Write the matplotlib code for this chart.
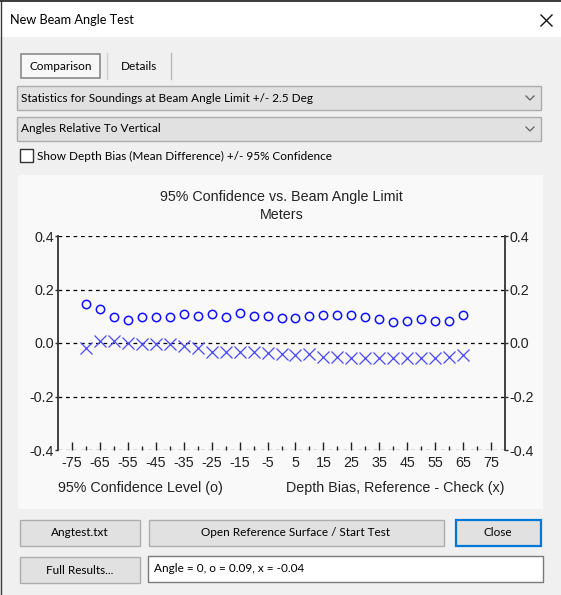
import matplotlib
matplotlib.use('Agg')
import matplotlib.pyplot as plt
from matplotlib.patches import Rectangle
from matplotlib.ticker import FixedLocator

# beam angles (deg) and statistics
angles = [-70, -65, -60, -55, -50, -45, -40, -35, -30, -25, -20, -15, -10, -5,
          0, 5, 10, 15, 20, 25, 30, 35, 40, 45, 50, 55, 60, 65]
conf95 = [0.146, 0.127, 0.097, 0.086, 0.096, 0.096, 0.096, 0.107, 0.102, 0.107,
          0.096, 0.111, 0.102, 0.102, 0.094, 0.095, 0.102, 0.105, 0.105, 0.105,
          0.098, 0.088, 0.078, 0.084, 0.088, 0.083, 0.083, 0.103]
bias = [-0.018, 0.008, 0.008, 0.001, -0.003, -0.003, -0.002, -0.011, -0.018, -0.033,
        -0.033, -0.033, -0.033, -0.037, -0.040, -0.045, -0.042, -0.053, -0.053, -0.055,
        -0.055, -0.057, -0.057, -0.057, -0.057, -0.055, -0.053, -0.045]
xtick_major = list(range(-75, 76, 10))
xtick_minor = list(range(-70, 71, 10))
yticks = [-0.4, -0.2, 0.0, 0.2, 0.4]

W, H = 561, 595
ui_font = 'Lato'
chart_font = 'Liberation Sans'

fig = plt.figure(figsize=(W / 100, H / 100), dpi=100)
fig.patch.set_facecolor('#f0f0f0')

# background axes in pixel coordinates for the dialog chrome
bg = fig.add_axes([0, 0, 1, 1])
bg.set_xlim(0, W)
bg.set_ylim(H, 0)
bg.axis('off')


def box(x0, y0, x1, y1, fc, ec, lw=1.0, z=1):
    bg.add_patch(Rectangle((x0, y0), x1 - x0, y1 - y0, facecolor=fc,
                           edgecolor=ec, linewidth=lw, zorder=z))


def label(x, y, s, ha='left', size=8.5, color='#000000', family=ui_font):
    bg.text(x, y, s, ha=ha, va='center', fontsize=size, color=color, family=family)


# title bar
box(0, 0, W, 37, '#ffffff', 'none')
bg.plot([0, W], [0.6, 0.6], color='#1a1a1a', lw=1.2)
bg.plot([1.5, 1.5], [0, H], color='#3a3a3a', lw=1.0)
label(10, 20, 'New Beam Angle Test', size=9.2)
bg.plot([541, 552], [15, 26], color='#111111', lw=1.0)
bg.plot([541, 552], [26, 15], color='#111111', lw=1.0)

# tabs
box(21, 54, 100, 78, '#f7f7f7', '#8a8a8a', lw=1.2)
label(61, 67, 'Comparison', ha='center')
bg.plot([107, 107], [53, 79], color='#d0d0d0', lw=1)
bg.plot([171, 171], [53, 79], color='#b8b8b8', lw=1)
label(139, 66, 'Details', ha='center')

# combo boxes
for y0, txt in [(86, 'Statistics for Soundings at Beam Angle Limit +/- 2.5 Deg'),
                (117, 'Angles Relative To Vertical')]:
    box(17, y0, 541, y0 + 24, '#e1e1e1', '#adadad')
    label(21, y0 + 12, txt)
    bg.plot([526, 530, 534], [y0 + 10, y0 + 14, y0 + 10], color='#606060', lw=0.9)

# checkbox
box(20, 149, 33, 162, '#ffffff', '#333333')
label(37, 156, 'Show Depth Bias (Mean Difference) +/- 95% Confidence')

# chart panel
box(18, 175, 543, 509, '#f9f9f9', 'none')

# buttons
box(20, 520, 140, 546, '#e1e1e1', '#adadad')
label(80, 533, 'Angtest.txt', ha='center')
box(149, 520, 444, 546, '#e1e1e1', '#adadad')
label(296, 533, 'Open Reference Surface / Start Test', ha='center')
box(456, 520, 541, 546, '#e1e1e1', '#0078d7', lw=1.6)
label(498, 533, 'Close', ha='center')
box(20, 557, 140, 583, '#e1e1e1', '#adadad')
label(80, 570, 'Full Results...', ha='center')
box(148, 556, 543, 582, '#ffffff', '#7a7a7a')
label(154, 569, 'Angle = 0, o = 0.09, x = -0.04')

# chart axes
left, right, top, bottom = 58, 505, 236, 450
ax = fig.add_axes([left / W, (H - bottom) / H, (right - left) / W, (bottom - top) / H])
ax.patch.set_alpha(0)
ax.set_xlim(-80, 80)
ax.set_ylim(-0.4, 0.4)

for v in yticks:
    ax.axhline(v, color='#000000', lw=0.9, ls=(0, (3, 3)), zorder=1)

ax.plot(angles, conf95, 'o', mfc='none', mec='#1010ff', mew=1.1, ms=6.0, zorder=3)
ax.plot(angles, bias, 'x', color='#4848ff', mew=0.9, ms=8.5, zorder=3)

for s in ['top', 'bottom']:
    ax.spines[s].set_visible(False)
for s in ['left', 'right']:
    ax.spines[s].set_color('#333333')
    ax.spines[s].set_linewidth(1.3)

ax.xaxis.set_major_locator(FixedLocator(xtick_major))
ax.xaxis.set_minor_locator(FixedLocator(xtick_minor))
ax.set_xticklabels([str(v) for v in xtick_major])
ax.tick_params(axis='x', which='major', direction='in', length=6, width=1,
               color='#222222', pad=4, labelsize=10.3, labelcolor='#222222')
ax.tick_params(axis='x', which='minor', direction='in', length=3, width=1,
               color='#222222')
ax.set_yticks(yticks)
ax.set_yticklabels(['%.1f' % v for v in yticks])
ax.tick_params(axis='y', left=True, right=True, labelleft=True, labelright=True,
               direction='out', length=2, width=1, color='#333333', pad=1,
               labelsize=10.3, labelcolor='#222222')
for t in ax.get_xticklabels() + ax.get_yticklabels():
    t.set_family(chart_font)

ax.set_title('95% Confidence vs. Beam Angle Limit\nMeters', fontsize=10.3,
             family=chart_font, color='#222222', pad=12, linespacing=1.35)
ax.text(0, -0.178, '95% Confidence Level (o)', transform=ax.transAxes, ha='left',
        va='center', fontsize=10.3, family=chart_font, color='#222222')
ax.text(1, -0.178, 'Depth Bias, Reference - Check (x)', transform=ax.transAxes,
        ha='right', va='center', fontsize=10.3, family=chart_font, color='#222222')

fig.savefig('out.png', dpi=100, facecolor=fig.get_facecolor())
